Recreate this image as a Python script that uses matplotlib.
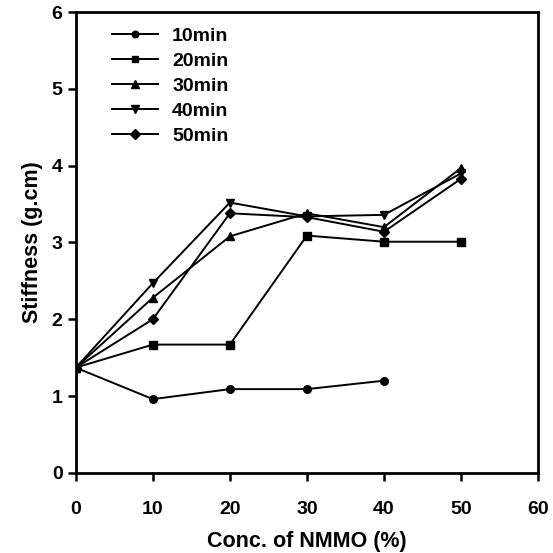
import matplotlib
matplotlib.use("Agg")
import matplotlib.pyplot as plt

plt.rcParams['font.family'] = ['Liberation Sans', 'DejaVu Sans']

conc = [0, 10, 20, 30, 40, 50]
s10 = [1.37, 0.96, 1.09, 1.09, 1.20]
s20 = [1.37, 1.67, 1.67, 3.09, 3.01, 3.01]
s30 = [1.37, 2.28, 3.08, 3.38, 3.20, 3.97]
s40 = [1.37, 2.47, 3.52, 3.34, 3.36, 3.90]
s50 = [1.37, 2.00, 3.38, 3.33, 3.14, 3.83]
labels = ['10min', '20min', '30min', '40min', '50min']

fig = plt.figure(figsize=(5.53, 5.53), dpi=100)
ax = fig.add_axes([0.137, 0.145, 0.836, 0.833])

series = [s10, s20, s30, s40, s50]
markers = ['o', 's', '^', 'v', 'D']
sizes = [5.5, 5.5, 6, 6, 5.5]
for s, m, ms, lab in zip(series, markers, sizes, labels):
    ax.plot(conc[:len(s)], s, color='black', marker=m, markersize=ms, lw=1.4, label=lab)

ax.set_xlim(0, 60)
ax.set_ylim(0, 6)
ax.set_xticks(range(0, 61, 10))
ax.set_yticks(range(0, 7))
for sp in ax.spines.values():
    sp.set_linewidth(2)
ax.tick_params(direction='out', length=6, width=1.8, labelsize=14)
for t in ax.get_xticklabels() + ax.get_yticklabels():
    t.set_fontweight('bold')
ax.tick_params(axis='x', pad=14)
ax.set_xlabel('Conc. of NMMO (%)', fontsize=15.5, fontweight='bold', labelpad=10)
ax.set_ylabel('Stiffness (g.cm)', fontsize=15.5, fontweight='bold', labelpad=6)

leg = ax.legend(loc='upper left', frameon=False, fontsize=14, handlelength=2.4,
                handletextpad=0.7, bbox_to_anchor=(0.04, 1.005), labelspacing=0.38,
                markerscale=0.85)
for t in leg.get_texts():
    t.set_fontweight('bold')

fig.savefig('out.png', dpi=100)
